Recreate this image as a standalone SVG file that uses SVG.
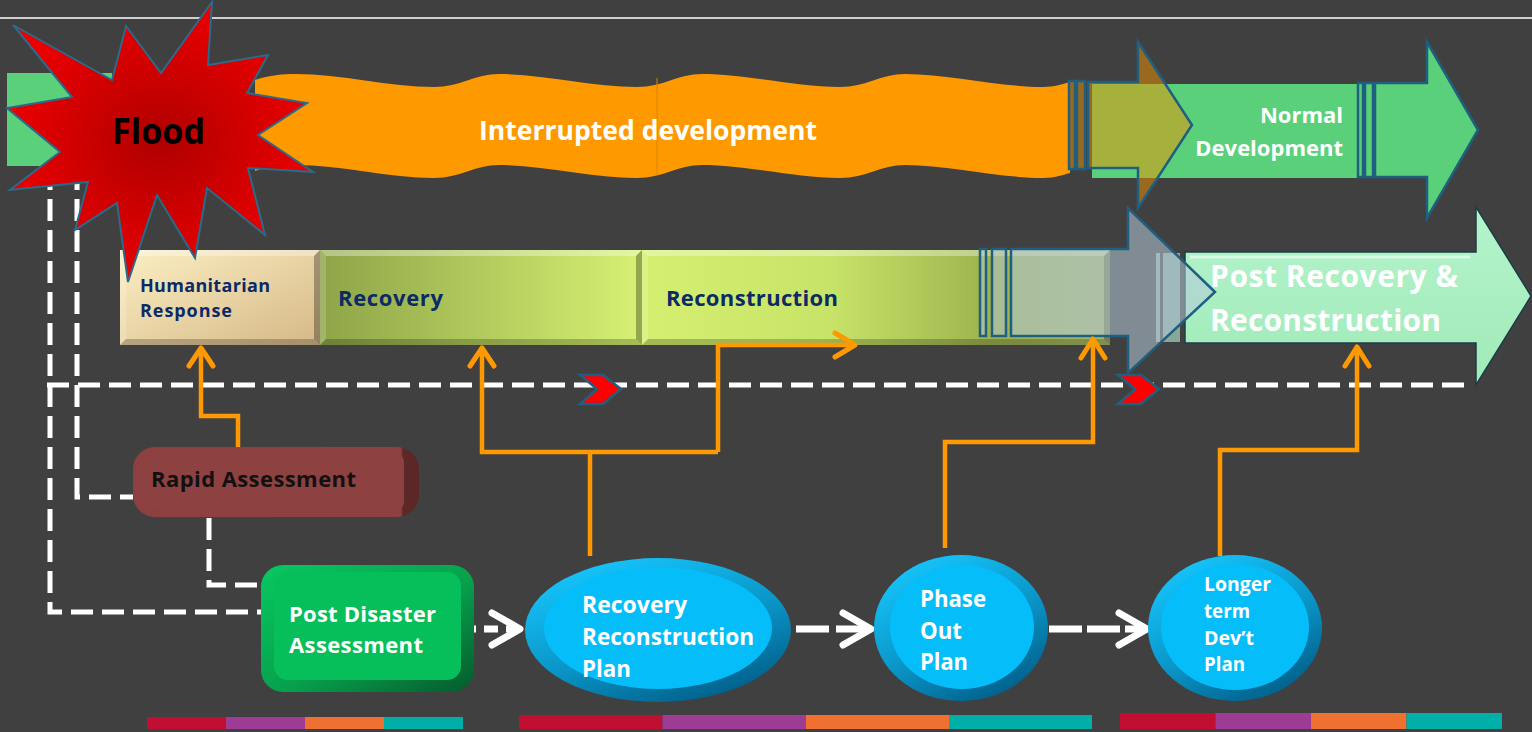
<svg xmlns="http://www.w3.org/2000/svg" width="1532" height="732" viewBox="0 0 1532 732">
<defs>
<style>
.t{font-family:"Open Sans","Liberation Sans",Arial,sans-serif;font-weight:700}
.w{fill:#fff}
.nv{fill:#0b2a66}
.wd{fill:none;stroke:#fff;stroke-width:5;stroke-dasharray:22 9}
.oc{fill:none;stroke:#ff9900;stroke-width:4.5}
.oh{fill:none;stroke:#ff9900;stroke-width:5;stroke-linecap:round;stroke-linejoin:round}
.ah{fill:none;stroke:#fff;stroke-width:7;stroke-linecap:round;stroke-linejoin:round}
.wa{fill:none;stroke:#fff;stroke-width:7}
.bd{stroke:#1f5f80;stroke-width:2.5}
.bl{fill:#fff;opacity:.35}
.bs{fill:#fff;opacity:.18}
.bk{fill:#000;opacity:.22}
.br{fill:#000;opacity:.3}
.chev{fill:#ff0000;stroke:#1f5f80;stroke-width:2.5}
</style>
<radialGradient id="starG" cx="0.5" cy="0.5" r="0.5">
<stop offset="0" stop-color="#b00000"/><stop offset="1" stop-color="#ea0000"/>
</radialGradient>
<linearGradient id="humG" x1="0" y1="0" x2="1" y2="1">
<stop offset="0" stop-color="#fbefc4"/><stop offset="1" stop-color="#d6b886"/>
</linearGradient>
<linearGradient id="recG" x1="0" y1="0" x2="1" y2="0">
<stop offset="0" stop-color="#8ea448"/><stop offset="1" stop-color="#d6f172"/>
</linearGradient>
<linearGradient id="conG" x1="0" y1="0" x2="1" y2="0">
<stop offset="0" stop-color="#d4ef70"/><stop offset="0.4" stop-color="#c8e468"/><stop offset="0.75" stop-color="#9cb24e"/><stop offset="1" stop-color="#a6b86a"/>
</linearGradient>
<linearGradient id="mintG" x1="0" y1="0" x2="0" y2="1">
<stop offset="0" stop-color="#b4f4cc"/><stop offset="1" stop-color="#a0eab8"/>
</linearGradient>
<linearGradient id="raG" x1="0" y1="0" x2="1" y2="0">
<stop offset="0" stop-color="#8c4040"/><stop offset="0.935" stop-color="#8e4141"/><stop offset="0.945" stop-color="#5c2828"/><stop offset="1" stop-color="#5a2626"/>
</linearGradient>
<linearGradient id="pdaG" x1="0" y1="0" x2="1" y2="1">
<stop offset="0" stop-color="#08c862"/><stop offset="0.55" stop-color="#07a04c"/><stop offset="1" stop-color="#055a2c"/>
</linearGradient>
<linearGradient id="ellG" x1="0.2" y1="0" x2="0.8" y2="1">
<stop offset="0" stop-color="#16c8ff"/><stop offset="0.55" stop-color="#0a94c6"/><stop offset="1" stop-color="#005a84"/>
</linearGradient>
</defs>

<rect x="0" y="0" width="1532" height="732" fill="#404040"/>
<line x1="0" y1="18" x2="1532" y2="18" stroke="#d0d0d0" stroke-width="2"/>

<g id="normal-start">
<rect x="7" y="73" width="105" height="93" fill="#5bd07a"/>
</g>

<g id="interrupted">
<path d="M255,80 C270,75 282,74 296,74 C340,74 390,87 434,87 C460,87 475,74 499,74 C543,74 593,87 637,87 C663,87 678,74 702,74 C746,74 796,87 840,87 C866,87 881,74 905,74 C949,74 999,87 1043,87 C1055,87 1062,84 1070,82 L1070,173 C1062,175 1055,178 1043,178 C999,178 949,165 905,165 C881,165 866,178 840,178 C796,178 746,165 702,165 C678,165 663,178 637,178 C593,178 543,165 499,165 C475,165 460,178 434,178 C390,178 340,165 296,165 C282,165 270,166 255,171 Z" fill="#ff9900"/>
<line x1="657" y1="78" x2="657" y2="175" stroke="#d88400" stroke-width="1"/>
<text class="t w" x="479" y="140" font-size="26" textLength="338" lengthAdjust="spacingAndGlyphs">Interrupted development</text>
</g>

<g id="normal-development">
<rect x="1092" y="84" width="266" height="94" fill="#5bd07a"/>
<rect x="1069" y="81" width="6" height="88" fill="#f29100" fill-opacity="0.5" class="bd"/>
<rect x="1077" y="81" width="8" height="88" fill="#f29100" fill-opacity="0.5" class="bd"/>
<path d="M1088,82 H1138 V42 L1192,125 L1138,208 V168 H1088 Z" fill="#f29100" fill-opacity="0.5" class="bd"/>
<rect x="1358" y="83" width="5" height="94" fill="#5bd07a" class="bd"/>
<rect x="1365" y="83" width="8" height="94" fill="#5bd07a" class="bd"/>
<path d="M1375,83 H1427 V42 L1478,130 L1427,218 V177 H1375 Z" fill="#5bd07a" class="bd"/>
<text class="t w" font-size="22" text-anchor="end"><tspan x="1343" y="123">Normal</tspan><tspan x="1343" y="156">Development</tspan></text>
</g>

<g id="humanitarian-response">
<rect x="120" y="250" width="200" height="95" fill="url(#humG)"/>
<path class="bl" d="M120,250 H320 L314,256 H126 Z"/>
<path class="bs" d="M120,250 L126,256 V339 L120,345 Z"/>
<path class="bk" d="M120,345 H320 L314,339 H126 Z"/>
<path class="br" d="M320,250 L314,256 V339 L320,345 Z"/>
<text class="t nv" font-size="18"><tspan x="140" y="292" textLength="130">Humanitarian</tspan><tspan x="140" y="317" textLength="92">Response</tspan></text>
</g>

<g id="recovery">
<rect x="320" y="250" width="322" height="95" fill="url(#recG)"/>
<path class="bl" d="M320,250 H642 L636,256 H326 Z"/>
<path class="bs" d="M320,250 L326,256 V339 L320,345 Z"/>
<path class="bk" d="M320,345 H642 L636,339 H326 Z"/>
<path class="br" d="M642,250 L636,256 V339 L642,345 Z"/>
<text class="t nv" x="338" y="306" font-size="22" textLength="105">Recovery</text>
</g>

<g id="reconstruction">
<rect x="642" y="250" width="468" height="95" fill="url(#conG)"/>
<path class="bl" d="M642,250 H1110 L1104,256 H648 Z"/>
<path class="bs" d="M642,250 L648,256 V339 L642,345 Z"/>
<path class="bk" d="M642,345 H1110 L1104,339 H648 Z"/>
<path class="br" d="M1110,250 L1104,256 V339 L1110,345 Z"/>
<text class="t nv" x="666" y="306" font-size="22" textLength="172">Reconstruction</text>
</g>

<g id="post-recovery">
<rect x="1156" y="253" width="4" height="89" fill="#c4ecdc" opacity="0.6"/>
<rect x="1163" y="253" width="17" height="89" fill="#b8ecd4" opacity="0.6"/>
<path d="M1185,252 H1476 V207 L1531,296 L1476,385 V343 H1185 Z" fill="url(#mintG)" stroke="#1c3c48" stroke-width="1.5"/>
<path d="M1190,257 H1470" stroke="#e8fff0" stroke-width="3" opacity="0.7"/>
<text class="t w" font-size="30" font-weight="600"><tspan x="1210" y="287" textLength="248">Post Recovery &amp;</tspan><tspan x="1210" y="331" textLength="231">Reconstruction</tspan></text>
</g>

<g id="transition-arrow">
<rect x="980" y="249" width="6" height="87" fill="#b4c8d8" fill-opacity="0.5" class="bd"/>
<rect x="992" y="249" width="14" height="87" fill="#b4c8d8" fill-opacity="0.5" class="bd"/>
<path d="M1011,249 H1128 V208 L1215,292 L1128,373 V336 H1011 Z" fill="#b4c8d8" fill-opacity="0.55" class="bd"/>
</g>

<g id="connectors">
<path class="wd" d="M47,385 H1472"/>
<path class="wd" d="M50,168 V612 H262"/>
<path class="wd" d="M77,168 V497 H133"/>
<path class="wd" d="M209,518 V585 H262"/>
<polygon class="chev" points="580,375 603,375 621,389 603,404 580,404 597,389"/>
<polygon class="chev" points="1118,375 1141,375 1159,389 1141,404 1118,404 1135,389"/>
<path class="oc" d="M238,447 V416 H201 V349"/>
<path class="oh" d="M189,366 L201,348 L213,366"/>
<path class="oc" d="M590,556 V452"/>
<path class="oc" d="M718,452 H482 V349"/>
<path class="oh" d="M470,366 L482,348 L494,366"/>
<path class="oc" d="M718,452 V345 H853"/>
<path class="oh" d="M835,333 L855,345 L835,357"/>
<path class="oc" d="M945,548 V442 H1093 V340"/>
<path class="oh" d="M1081,358 L1093,339 L1105,358"/>
<path class="oc" d="M1220,556 V450 H1357 V348"/>
<path class="oh" d="M1345,366 L1357,347 L1369,366"/>
<path class="wa" d="M462,629 H515" stroke-dasharray="14 8"/>
<path class="ah" d="M492,613 L520,629 L492,645"/>
<path class="wa" d="M796,629 H868" stroke-dasharray="33 7"/>
<path class="ah" d="M843,613 L871,629 L843,645"/>
<path class="wa" d="M1049,629 H1144" stroke-dasharray="33 5"/>
<path class="ah" d="M1119,613 L1147,629 L1119,645"/>
</g>

<g id="flood">
<polygon points="13,25 112,80 126,26 161,73 212,2 208,65 268,55 247,93 307,103 258,135 313,172 248,168 265,235 207,188 195,258 157,195 128,282 117,203 75,230 88,182 10,190 60,152 7,108 72,97" fill="url(#starG)" stroke="#2a6a8a" stroke-width="2" stroke-linejoin="miter"/>
<text class="t" x="112" y="144" font-size="36" fill="#000" textLength="93" lengthAdjust="spacingAndGlyphs">Flood</text>
</g>

<g id="rapid-assessment">
<rect x="133" y="447" width="286" height="70" rx="22" fill="url(#raG)"/>
<rect x="150" y="454" width="254" height="56" rx="8" fill="#8e4141"/>
<text class="t" x="151" y="487" font-size="22" fill="#111" textLength="205">Rapid Assessment</text>
</g>

<g id="post-disaster-assessment">
<rect x="261" y="565" width="213" height="127" rx="22" fill="url(#pdaG)"/>
<rect x="274" y="572" width="187" height="108" rx="14" fill="#06bf5a"/>
<text class="t w" font-size="22"><tspan x="289" y="622" textLength="147">Post Disaster</tspan><tspan x="289" y="653" textLength="134">Assessment</tspan></text>
</g>

<g id="recovery-reconstruction-plan">
<ellipse cx="658" cy="630" rx="133" ry="72" fill="url(#ellG)"/>
<ellipse cx="658" cy="628" rx="114" ry="61" fill="#05bef9"/>
<text class="t w" font-size="23"><tspan x="582" y="613" textLength="105" lengthAdjust="spacingAndGlyphs">Recovery</tspan><tspan x="582" y="645" textLength="172" lengthAdjust="spacingAndGlyphs">Reconstruction</tspan><tspan x="582" y="677" textLength="49" lengthAdjust="spacingAndGlyphs">Plan</tspan></text>
</g>

<g id="phase-out-plan">
<ellipse cx="961" cy="628" rx="87" ry="73" fill="url(#ellG)"/>
<ellipse cx="962" cy="627" rx="72" ry="62" fill="#05bef9"/>
<text class="t w" font-size="23"><tspan x="920" y="607" textLength="66" lengthAdjust="spacingAndGlyphs">Phase</tspan><tspan x="920" y="639" textLength="42" lengthAdjust="spacingAndGlyphs">Out</tspan><tspan x="920" y="670" textLength="48" lengthAdjust="spacingAndGlyphs">Plan</tspan></text>
</g>

<g id="longer-term-plan">
<ellipse cx="1235" cy="628" rx="87" ry="73" fill="url(#ellG)"/>
<ellipse cx="1235" cy="627" rx="74" ry="63" fill="#05bef9"/>
<text class="t w" font-size="19"><tspan x="1204" y="591" textLength="67" lengthAdjust="spacingAndGlyphs">Longer</tspan><tspan x="1204" y="618" textLength="46" lengthAdjust="spacingAndGlyphs">term</tspan><tspan x="1204" y="645" textLength="50" lengthAdjust="spacingAndGlyphs">Dev’t</tspan><tspan x="1204" y="671" textLength="41" lengthAdjust="spacingAndGlyphs">Plan</tspan></text>
</g>

<g id="color-strips">
<rect x="147" y="717" width="79" height="12" fill="#c00f30"/>
<rect x="226" y="717" width="79" height="12" fill="#9c3c94"/>
<rect x="305" y="717" width="79" height="12" fill="#f07032"/>
<rect x="384" y="717" width="79" height="12" fill="#00b0a8"/>
<rect x="519" y="715" width="143.5" height="14" fill="#c00f30"/>
<rect x="662.5" y="715" width="143.5" height="14" fill="#9c3c94"/>
<rect x="806" y="715" width="143" height="14" fill="#f07032"/>
<rect x="949" y="715" width="143" height="14" fill="#00b0a8"/>
<rect x="1120" y="713" width="95.5" height="16" fill="#c00f30"/>
<rect x="1215.5" y="713" width="95.5" height="16" fill="#9c3c94"/>
<rect x="1311" y="713" width="95.5" height="16" fill="#f07032"/>
<rect x="1406.5" y="713" width="95.5" height="16" fill="#00b0a8"/>
</g>
</svg>
